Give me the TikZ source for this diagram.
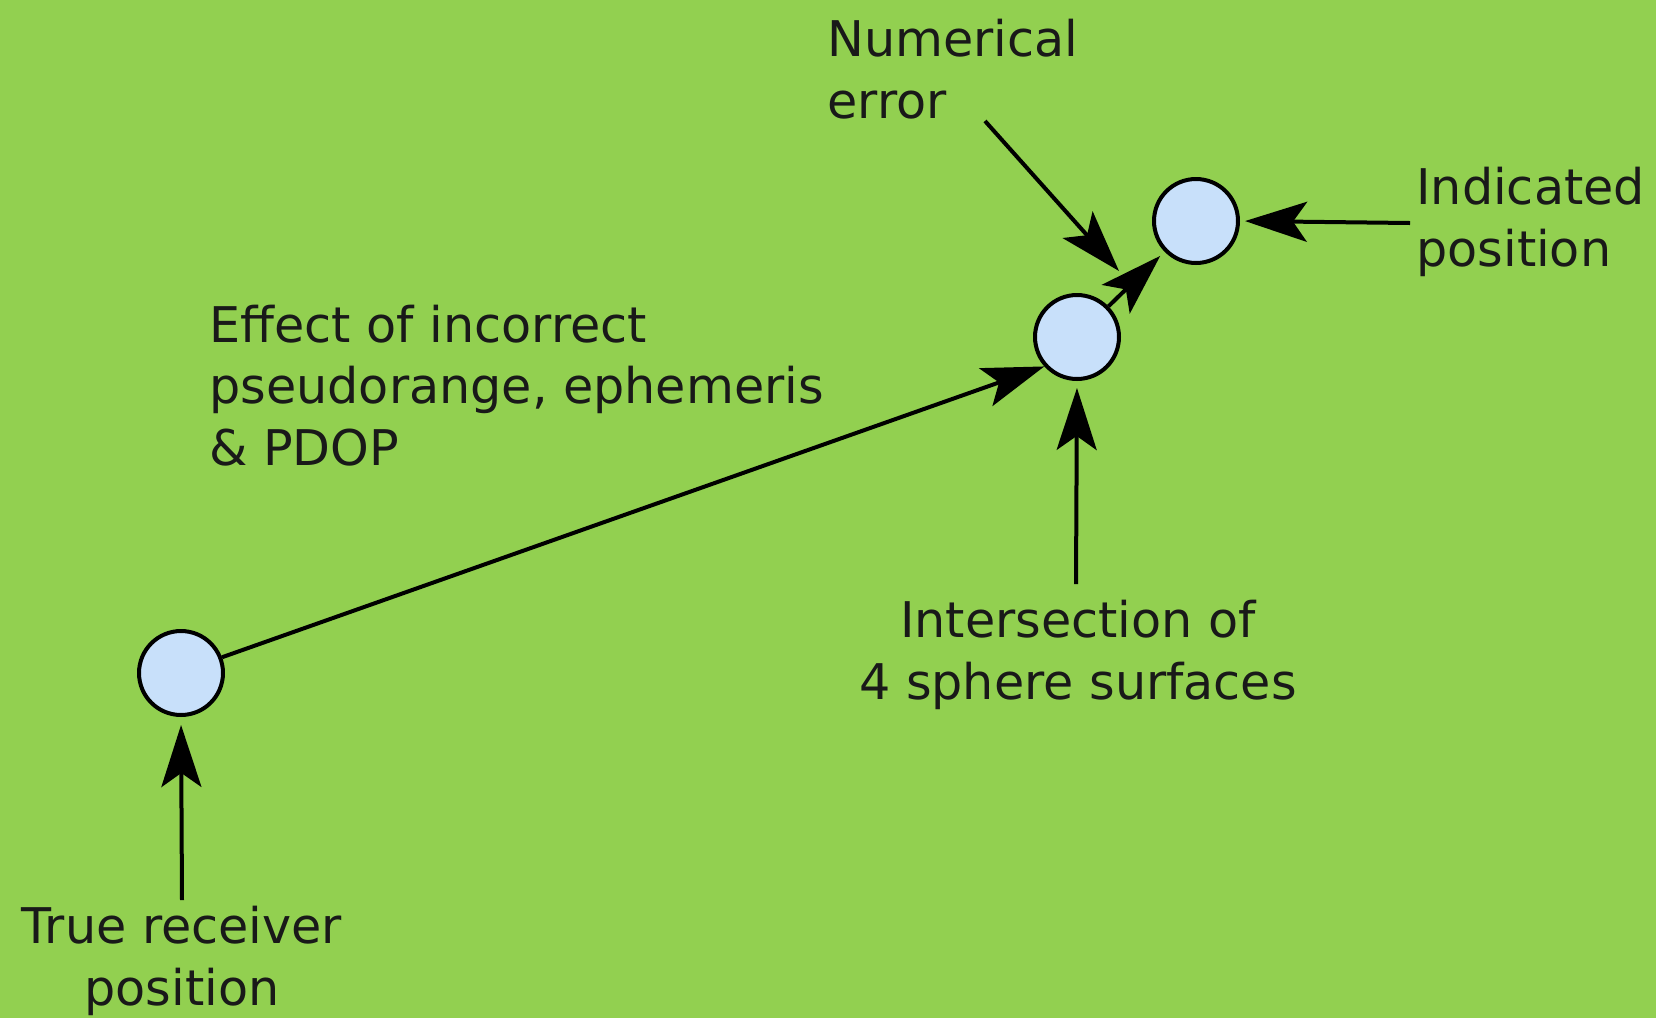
\documentclass[tikz,border=0pt]{standalone}
\usepackage{fontspec}
\setmainfont{DejaVu Sans}
\definecolor{bggreen}{RGB}{146,208,80}
\definecolor{posblue}{RGB}{200,224,250}
\usetikzlibrary{
  arrows.meta,
  positioning
}

\begin{document}
\begin{tikzpicture}[
    x=0.02cm, y=-0.02cm,
    posn/.style={
      circle, draw=black, line width=0.08cm, fill=posblue,
      minimum size=1.68cm, inner sep=0pt
    },
    lbl/.style={
      font=\fontsize{28}{35}\selectfont, text=black!90,
      inner sep=0pt
    },
    ptr/.style={
      -{Stealth[length=1.24cm, width=0.8cm, inset=0.28cm]},
      line width=0.08cm
    }
  ]

  %% Canvas
  \useasboundingbox (0,0) rectangle (1656,1018);
  \fill[bggreen] (0,0) rectangle (1656,1018);

  %% Positions
  \node[posn] (true)  at (181,673) {};
  \node[posn] (inter) at (1077,337) {};
  \node[posn] (ind)   at (1196,221) {};

  %% Labels (anchored at the baseline of their last line)
  \node[lbl, anchor=base west, align=left] (numtxt) at (827,118)
    {Numerical\\error};
  \node[lbl, anchor=base west, align=left] (indtxt) at (1416,266)
    {Indicated\\position};
  \node[lbl, anchor=base west, align=left] (efftxt) at (209,465)
    {Effect of incorrect\\pseudorange, ephemeris\\\& PDOP};
  \node[lbl, anchor=base, align=center] (inttxt) at (1078,699)
    {Intersection of\\4 sphere surfaces};
  \node[lbl, anchor=base, align=center] (truetxt) at (182,1005)
    {True receiver\\position};

  %% Arrow tails
  \coordinate (numtail)  at (985,121);
  \coordinate (numtip)   at (1119,271);
  \coordinate (inttail)  at (1076,584);
  \coordinate (truetail) at (182,900);
  \coordinate (indtail)  at (1410,223);

  %% Arrows
  \draw[ptr] (numtail) -- (numtip);
  \draw[ptr] (true.21) -- (inter.222);
  \draw[ptr, shorten >=0.12cm] (inter) -- (ind);
  \draw[ptr, shorten >=0.14cm] (inttail) -- (inter.south);
  \draw[ptr, shorten >=0.16cm] (truetail) -- (true.south);
  \draw[ptr, shorten >=0.1cm] (indtail) -- (ind.east);

\end{tikzpicture}
\end{document}
